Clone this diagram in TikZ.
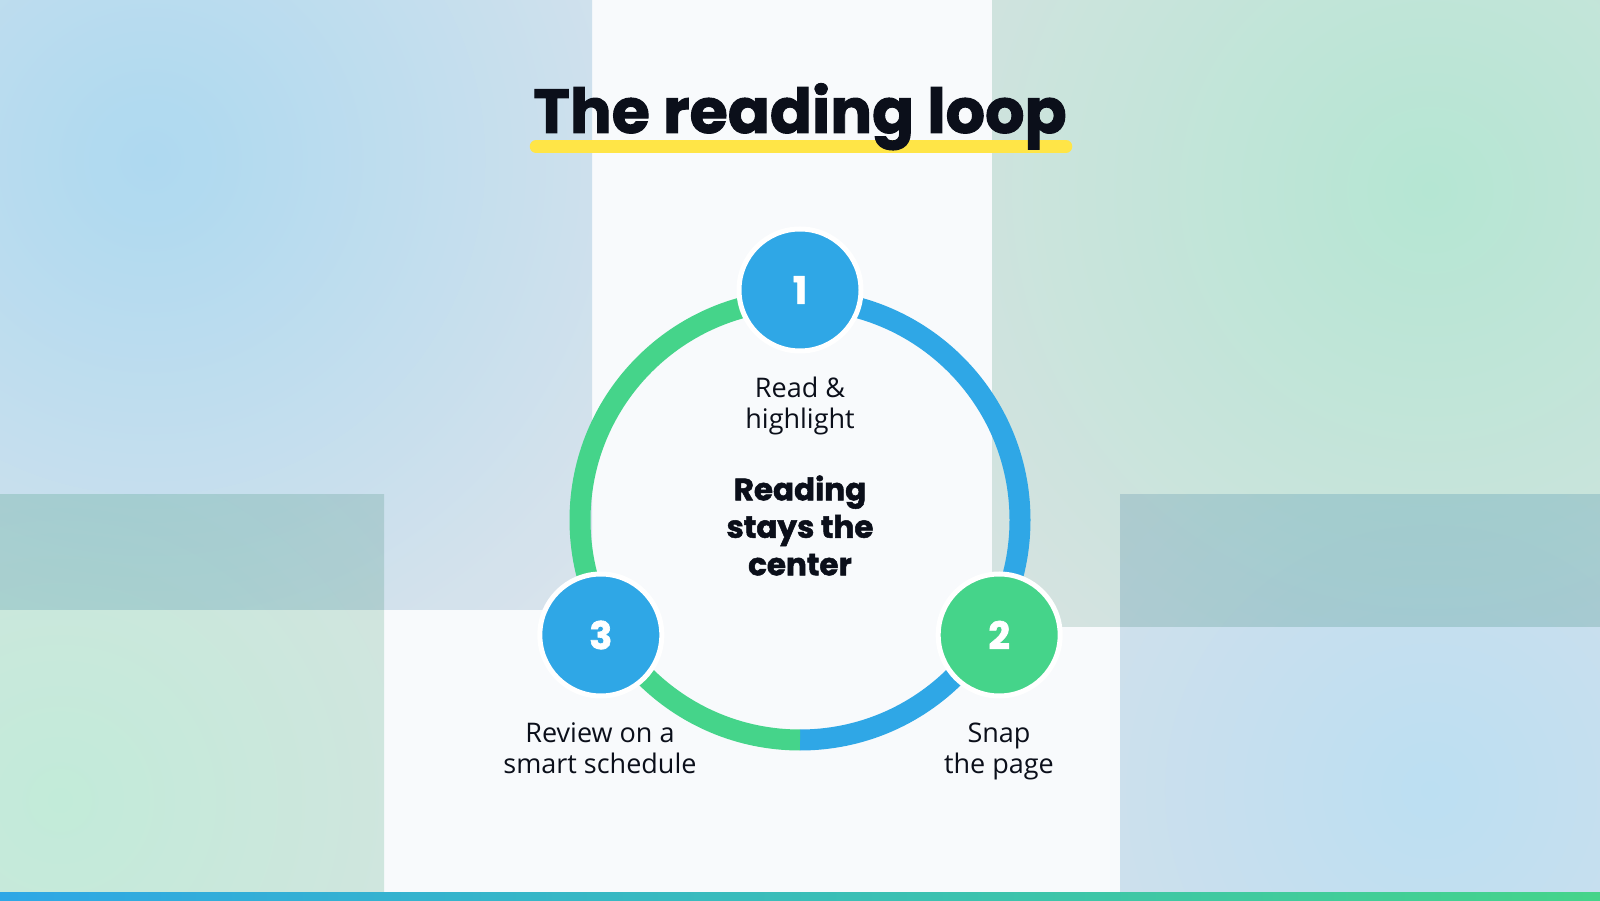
\documentclass[tikz,border=0pt]{standalone}
\usepackage{fontspec}
\setmainfont{Open Sans}
\newfontfamily\headfont{Poppins}[BoldFeatures={FakeBold=1.6}]
\usetikzlibrary{positioning}

\definecolor{loopblue}{HTML}{2FA7E6}
\definecolor{loopgreen}{HTML}{45D48A}
\definecolor{inkdark}{HTML}{0B0F1A}
\definecolor{paper}{HTML}{F8FAFC}
\definecolor{marker}{HTML}{FFE547}

\begin{document}
\begin{tikzpicture}[x=1pt, y=1pt,
  stepnode/.style={circle, draw=white, line width=5pt, minimum size=122pt, inner sep=0pt,
    text=white, font=\headfont\bfseries\fontsize{38}{40}\selectfont},
  steplabel/.style={align=center, text=inkdark, font=\fontsize{27}{31}\selectfont},
  ringarc/.style={line width=21pt}]
  \useasboundingbox (0,0) rectangle (1600,900);
  \fill[paper] (0,0) rectangle (1600,900);

  % soft panels behind the loop
  \begin{scope}[blend mode=multiply]
    \begin{scope}
      \clip (0,290) rectangle (592,900);
      \shade[inner color={rgb,255:red,179;green,222;blue,243}, outer color={rgb,255:red,228;green,233;blue,238}] (-520,70) rectangle (820,1410);
    \end{scope}
    \begin{scope}
      \clip (992,273) rectangle (1600,900);
      \shade[inner color={rgb,255:red,187;green,235;blue,214}, outer color={rgb,255:red,224;green,231;blue,230}] (760,40) rectangle (2100,1380);
    \end{scope}
    \begin{scope}
      \clip (0,0) rectangle (384,405);
      \shade[inner color={rgb,255:red,200;green,240;blue,220}, outer color={rgb,255:red,222;green,231;blue,228}] (-500,-460) rectangle (620,660);
    \end{scope}
    \begin{scope}
      \clip (1120,0) rectangle (1600,405);
      \shade[inner color={rgb,255:red,194;green,228;blue,245}, outer color={rgb,255:red,221;green,229;blue,236}] (900,-420) rectangle (1960,640);
    \end{scope}
  \end{scope}
  \shade[left color=loopblue, right color=loopgreen] (0,0) rectangle (1600,8);

  % title
  \draw[marker, line width=12.5pt, line cap=round] (536,753.5) -- (1066,753.5);
  \node[anchor=base, text=inkdark, font=\headfont\bfseries\fontsize{62}{70}\selectfont] (title) at (800,767) {The reading loop};

  % the loop
  \coordinate (hub) at (800,380);
  \draw[ringarc, loopblue] ([shift={(90:220)}]hub) arc[start angle=90, end angle=-90, radius=220];
  \draw[ringarc, loopgreen] ([shift={(90:220)}]hub) arc[start angle=90, end angle=270, radius=220];

  \node[stepnode, fill=loopblue] (read) at ([shift={(90:230)}]hub) {1};
  \node[stepnode, fill=loopgreen] (snap) at ([shift={(-30:230)}]hub) {2};
  \node[stepnode, fill=loopblue] (review) at ([shift={(210:230)}]hub) {3};

  \node[steplabel] (readtext) at (800,494) {Read \&\\highlight};
  \node[steplabel] (snaptext) at (999,149) {Snap\\the page};
  \node[steplabel] (reviewtext) at (600,152) {Review on a\\smart schedule};
  \node[align=center, text=inkdark, font=\headfont\bfseries\fontsize{31}{37.5}\selectfont] (core) at (800,374.5) {Reading\\stays the\\center};
\end{tikzpicture}
\end{document}
